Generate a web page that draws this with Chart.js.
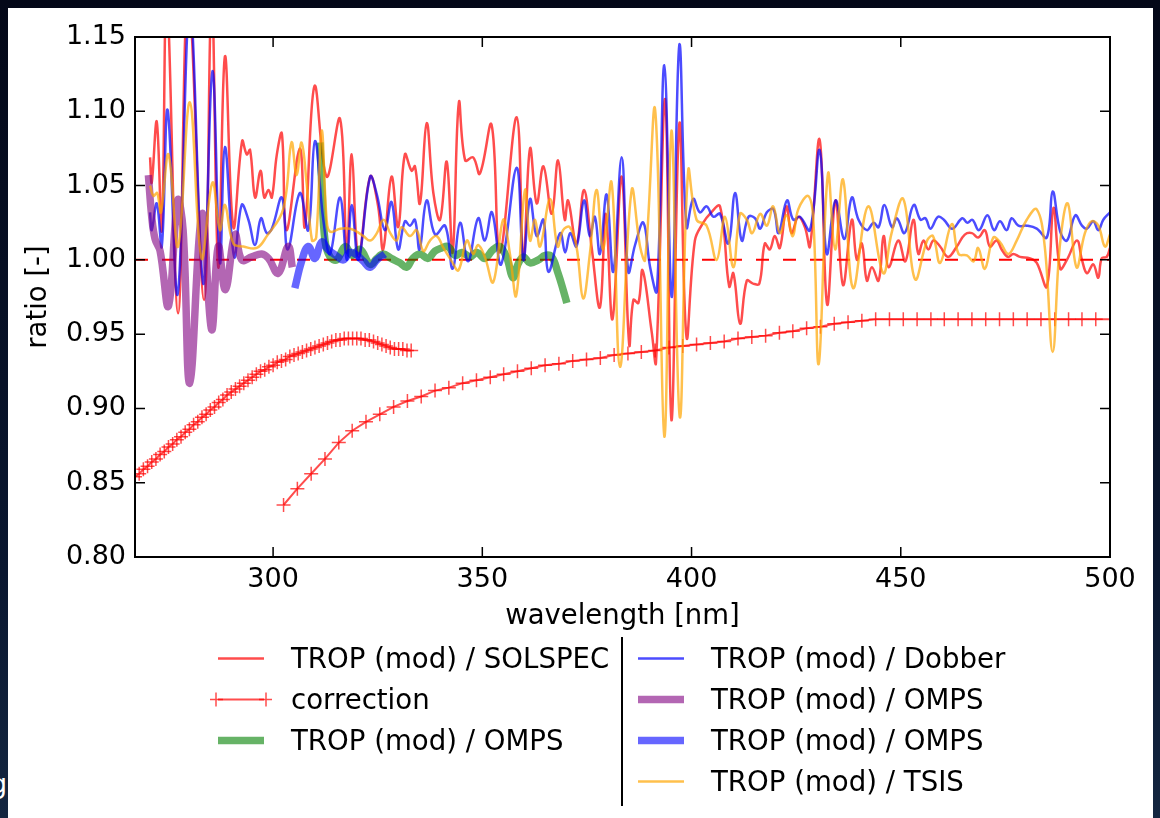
<!DOCTYPE html>
<html>
<head>
<meta charset="utf-8">
<script src="https://cdn.jsdelivr.net/npm/chart.js@4.4.1/dist/chart.umd.min.js"></script>
<style>
  body { margin: 0; width: 1160px; height: 818px; overflow: hidden; position: relative;
         background: linear-gradient(to bottom, #040818, #0a1730 70%, #142640); font-family: "DejaVu Sans", sans-serif; }
  #panel { position: absolute; left: 8px; top: 8px; width: 1145px; height: 812px; background: #fff; }
  #chartBox { position: absolute; left: 0; top: 0; width: 1145px; height: 640px; }
  #legend { position: absolute; left: 0; top: 0; width: 1145px; height: 812px; pointer-events: none; }
  .row { position: absolute; height: 41px; line-height: 41px; font-size: 27.6px; color: #000; white-space: nowrap; }
  .row span { position: absolute; top: 0; }
  #divider { position: absolute; left: 613px; top: 629px; width: 2px; height: 169px; background: #000; }
  #edgeText { position: absolute; left: -10px; top: 768px; color: #fff; font-size: 27px; }
</style>
</head>
<body>
<div id="edgeText">g</div>
<div id="panel">
  <div id="chartBox"><canvas id="ratioChart" width="1145" height="640"></canvas></div>
  <div id="legend"><div id="divider"></div></div>
</div>
<script>
// [wavelength nm, ratio]
const solspecRatio = [[270.6,1.069],[271.0,1.052],[272.2,1.093],[273.4,1.020],[274.6,1.180],[277.3,0.964],[279.7,1.180],[283.5,0.973],[285.3,1.180],[286.9,0.995],[288.5,1.137],[290.5,1.022],[292.6,1.080],[293.7,1.071],[294.5,1.074],[295.7,1.042],[297.0,1.060],[297.9,1.042],[298.9,1.047],[299.7,1.042],[300.9,1.071],[302.1,1.085],[303.2,1.020],[306.4,1.075],[307.6,1.022],[309.9,1.117],[312.8,1.056],[316.0,1.095],[317.6,1.005],[318.8,1.071],[320.4,1.002],[323.2,1.056],[325.1,1.036],[326.3,1.007],[328.3,1.056],[329.9,1.022],[331.5,1.071],[333.1,1.060],[333.9,1.063],[335.1,1.038],[336.7,1.092],[338.3,1.045],[339.9,1.027],[341.5,1.066],[342.9,1.005],[344.4,1.106],[345.9,1.067],[347.8,1.069],[349.4,1.058],[352.2,1.091],[354.2,1.005],[358.2,1.096],[359.8,1.000],[361.4,1.075],[363.0,1.038],[364.6,1.063],[366.6,1.031],[368.1,1.067],[369.7,1.027],[370.5,1.040],[372.5,1.011],[374.3,1.047],[376.1,1.009],[378.1,0.968],[379.5,1.031],[381.1,0.960],[383.3,1.056],[385.1,0.943],[386.1,0.973],[387.3,0.971],[388.3,0.993],[390.5,0.951],[391.5,0.931],[393.7,1.108],[395.2,0.892],[397.1,1.092],[398.8,0.948],[400.8,1.013],[402.8,1.025],[404.4,1.031],[406.8,1.036],[409.0,0.982],[410.0,0.991],[411.6,0.957],[413.2,0.986],[414.7,0.984],[416.2,0.984],[417.5,1.011],[418.7,1.007],[419.9,1.016],[421.1,1.008],[422.7,1.036],[423.9,1.018],[425.5,1.029],[427.1,1.022],[428.3,1.009],[430.6,1.081],[432.4,0.970],[434.4,1.040],[436.2,0.983],[438.3,1.027],[439.5,1.000],[440.7,1.011],[441.9,0.986],[443.1,0.995],[444.7,0.986],[445.9,1.016],[447.1,0.995],[449.4,1.013],[451.1,0.999],[453.0,1.027],[454.2,1.004],[455.4,1.013],[456.6,1.007],[457.8,1.013],[459.4,1.009],[461.3,1.002],[463.4,1.009],[465.3,1.017],[467.0,1.018],[468.5,1.015],[470.1,1.020],[471.3,1.009],[472.9,1.013],[474.1,1.007],[475.6,1.002],[476.9,1.004],[478.5,1.002],[480.9,1.001],[482.5,0.998],[484.9,0.982],[486.5,1.035],[488.1,0.994],[489.7,1.000],[492.1,1.013],[493.3,1.000],[494.5,0.991],[496.0,0.997],[497.2,0.988],[498.0,1.001],[499.2,1.002],[500.0,1.008]];

const correctionA = [[267,0.854],[268,0.856],[269,0.859],[270,0.861],[271,0.864],[272,0.866],[273,0.869],[274,0.871],[275,0.874],[276,0.876],[277,0.879],[278,0.881],[279,0.884],[280,0.886],[281,0.889],[282,0.891],[283,0.894],[284,0.896],[285,0.899],[286,0.901],[287,0.904],[288,0.906],[289,0.909],[290,0.911],[291,0.913],[292,0.915],[293,0.917],[294,0.919],[295,0.921],[296,0.923],[297,0.925],[298,0.926],[299,0.928],[300,0.929],[301,0.931],[302,0.932],[303,0.933],[304,0.935],[305,0.936],[306,0.937],[307,0.938],[308,0.939],[309,0.940],[310,0.941],[311,0.942],[312,0.943],[313,0.944],[314,0.945],[315,0.946],[316,0.946],[317,0.947],[318,0.947],[319,0.947],[320,0.947],[321,0.947],[322,0.946],[323,0.946],[324,0.945],[325,0.944],[326,0.943],[327,0.942],[328,0.941],[329,0.940],[330,0.940],[331,0.940],[332,0.939],[333,0.939]];

const correctionB = [[302.5,0.835],[305.8,0.846],[309.1,0.856],[312.4,0.866],[315.7,0.877],[318.9,0.885],[322.2,0.891],[325.5,0.896],[328.8,0.901],[332.1,0.905],[335.4,0.908],[338.7,0.912],[342.0,0.914],[345.3,0.917],[348.6,0.919],[351.9,0.921],[355.1,0.923],[358.4,0.925],[361.7,0.927],[365.0,0.929],[368.3,0.930],[371.6,0.932],[374.9,0.933],[378.2,0.934],[381.5,0.936],[384.8,0.937],[388.0,0.938],[391.3,0.939],[394.6,0.941],[397.9,0.942],[401.2,0.943],[404.5,0.944],[407.8,0.945],[411.1,0.947],[414.4,0.948],[417.7,0.949],[421.0,0.951],[424.2,0.952],[427.5,0.954],[430.8,0.955],[434.1,0.957],[437.4,0.958],[440.7,0.959],[444.0,0.960],[447.3,0.960],[450.6,0.960],[453.9,0.960],[457.2,0.960],[460.4,0.960],[463.7,0.960],[467.0,0.960],[470.3,0.960],[473.6,0.960],[476.9,0.960],[480.2,0.960],[483.5,0.960],[486.8,0.960],[490.1,0.960],[493.3,0.960],[496.6,0.960],[503.2,0.960]];

const ompsGreen = [[311.2,1.079],[311.7,1.047],[312.4,1.013],[313.6,1.002],[315.2,1.000],[317.2,1.009],[318.9,1.003],[320.8,1.007],[323.2,0.997],[324.8,1.001],[326.3,1.004],[328.2,1.001],[330.3,0.998],[331.9,0.995],[333.4,1.001],[335.1,1.004],[337.0,1.001],[338.7,1.006],[340.3,1.008],[341.8,1.009],[343.5,1.003],[345.1,1.005],[347.1,1.002],[348.7,1.005],[350.6,1.001],[352.6,1.007],[354.2,1.009],[355.9,1.001],[357.3,0.988],[358.5,0.997],[359.8,1.002],[361.4,0.998],[363.4,1.000],[365.0,1.003],[366.6,1.002],[368.1,0.991],[369.3,0.980],[370.2,0.971]];

const dobberRatio = [[270.6,1.032],[271.0,1.020],[272.2,1.038],[273.4,1.009],[274.8,1.101],[277.2,0.977],[280.1,1.170],[283.3,0.984],[285.5,1.127],[287.3,0.998],[288.5,1.076],[290.7,1.002],[292.5,1.037],[294.1,1.027],[295.7,1.010],[297.1,1.028],[298.5,1.018],[299.7,1.021],[302.1,1.042],[303.5,1.007],[306.4,1.045],[308.4,1.020],[310.0,1.080],[312.0,1.027],[313.6,1.004],[316.0,1.042],[317.6,1.000],[318.8,1.037],[320.4,1.000],[323.2,1.056],[324.8,1.044],[326.7,1.020],[328.3,1.039],[329.9,1.007],[331.5,1.026],[332.7,1.023],[333.9,1.027],[335.0,1.007],[336.7,1.040],[338.7,1.017],[341.1,1.023],[342.9,0.994],[344.7,1.025],[346.6,0.999],[349.0,1.028],[350.6,1.013],[352.3,1.032],[354.5,0.997],[358.2,1.062],[359.8,1.000],[361.4,1.041],[363.0,1.016],[364.6,1.027],[365.8,0.992],[368.6,1.018],[369.8,1.005],[371.0,1.018],[372.5,1.009],[374.3,1.040],[375.7,1.016],[376.9,1.029],[378.1,1.004],[379.7,1.044],[381.3,0.992],[383.3,1.069],[384.9,0.992],[386.5,1.010],[388.5,1.025],[390.1,0.995],[391.7,0.979],[393.5,1.131],[395.3,0.975],[397.1,1.145],[398.8,1.022],[400.4,1.041],[402.0,1.032],[403.6,1.036],[405.2,1.029],[406.8,1.031],[408.8,1.011],[410.4,1.045],[412.0,1.013],[413.6,1.029],[415.2,1.028],[416.4,1.021],[418.0,1.032],[419.6,1.034],[420.8,1.018],[422.8,1.040],[424.3,1.027],[425.9,1.029],[428.3,1.020],[430.6,1.074],[432.3,1.004],[434.4,1.040],[436.5,1.014],[438.3,1.042],[439.9,1.027],[441.9,1.020],[443.5,1.025],[444.7,1.022],[446.1,1.037],[447.9,1.022],[449.1,1.028],[450.9,1.018],[453.1,1.037],[454.7,1.027],[455.9,1.028],[457.1,1.021],[458.9,1.029],[460.3,1.027],[462.3,1.021],[464.7,1.028],[465.9,1.025],[467.1,1.027],[468.7,1.020],[470.7,1.030],[472.3,1.020],[473.7,1.026],[475.3,1.020],[476.5,1.028],[478.1,1.023],[480.1,1.023],[482.5,1.021],[484.9,1.015],[486.3,1.046],[488.1,1.019],[489.7,1.013],[491.7,1.030],[493.3,1.023],[494.5,1.021],[496.0,1.026],[497.2,1.020],[498.4,1.027],[500.0,1.032]];

const ompsPurple = [[270.2,1.057],[271.0,1.029],[271.8,1.014],[273.0,1.006],[275.0,0.969],[277.2,1.040],[278.5,1.020],[280.1,0.917],[283.0,1.031],[285.3,0.953],[286.9,1.009],[288.6,0.980],[290.9,1.017],[292.5,1.000],[294.9,1.002],[297.3,1.004],[298.9,1.001],[301.2,0.991],[303.6,1.009],[304.6,0.995]];

const ompsBlue = [[305.2,0.981],[306.8,0.999],[308.4,1.009],[310.0,1.001],[311.6,1.012],[313.1,1.007],[315.0,1.003],[316.8,1.000],[318.4,1.005],[320.1,1.003],[321.6,0.999],[323.2,0.995],[324.8,1.000],[326.7,1.004]];

const tsisRatio = [[270.6,1.050],[271.4,1.043],[272.3,1.045],[273.2,1.032],[275.0,1.071],[277.3,1.009],[280.1,1.106],[282.9,1.001],[285.5,1.052],[287.3,1.020],[288.5,1.037],[290.5,1.011],[292.9,1.009],[296.1,1.008],[298.5,1.016],[302.4,1.034],[304.4,1.079],[305.6,1.057],[306.8,1.079],[308.0,1.052],[309.3,1.013],[310.3,1.015],[311.6,1.087],[312.8,1.027],[313.6,1.019],[316.0,1.021],[318.4,1.021],[320.0,1.019],[321.6,1.016],[323.2,1.013],[324.8,1.018],[326.4,1.027],[328.0,1.018],[329.5,1.013],[330.7,1.022],[332.7,1.016],[334.3,1.020],[335.9,1.006],[337.5,1.013],[339.1,1.016],[340.7,1.008],[342.7,0.999],[344.3,0.993],[346.3,1.013],[347.8,1.004],[349.0,1.010],[350.6,1.002],[352.6,0.985],[355.0,1.027],[356.6,1.004],[358.1,0.976],[360.2,1.047],[361.4,1.013],[362.6,1.027],[363.8,1.009],[366.2,1.041],[368.0,1.009],[369.3,1.020],[370.9,1.022],[372.5,1.009],[374.1,0.974],[375.7,1.004],[377.3,1.047],[378.9,1.007],[380.9,1.052],[382.9,0.928],[385.7,1.047],[387.7,1.009],[388.9,1.000],[391.3,1.101],[393.5,0.881],[395.2,1.087],[397.2,0.894],[399.2,1.060],[401.2,1.027],[403.6,1.023],[406.0,1.000],[408.0,1.029],[410.0,0.995],[411.6,1.031],[413.2,1.027],[414.5,1.018],[416.4,1.031],[418.0,1.023],[419.5,1.036],[421.1,1.018],[422.7,1.030],[424.2,1.016],[425.5,1.034],[427.9,1.043],[429.1,1.027],[430.4,0.930],[432.6,1.058],[434.3,1.007],[436.2,1.054],[438.6,0.981],[442.2,1.036],[445.8,0.991],[447.8,1.018],[450.6,1.041],[453.4,0.987],[456.3,1.013],[457.7,1.016],[459.4,0.998],[462.2,1.024],[463.8,1.004],[465.8,1.003],[467.4,0.999],[468.5,1.008],[470.1,0.994],[472.1,1.015],[473.7,1.012],[475.7,1.004],[477.7,1.013],[480.1,1.027],[482.5,1.034],[484.4,1.009],[486.3,0.938],[488.0,1.009],[489.9,1.038],[492.0,0.995],[494.0,1.018],[495.6,1.026],[497.2,1.023],[498.8,1.009],[500.0,1.017]];

const unityLine = [[267,1.0],[500,1.0]];

const xTickValues = [300, 350, 400, 450, 500];
const yTickValues = [0.80, 0.85, 0.90, 0.95, 1.00, 1.05, 1.10, 1.15];

const FONT = '"DejaVu Sans", sans-serif';
const toPts = arr => arr.map(p => ({ x: p[0], y: p[1] }));

function lineSet(label, data, color, width, extra) {
    return Object.assign({
        label: label,
        data: toPts(data),
        borderColor: color,
        borderWidth: width,
        pointRadius: 0,
        tension: 0.4,
        fill: false,
        clip: 0
    }, extra || {});
}

const dsUnity   = lineSet('', unityLine, '#ff0000', 2, { tension: 0, borderDash: [13, 14], order: 8 });
const dsSolspec = lineSet('TROP (mod) / SOLSPEC', solspecRatio, 'rgba(255,0,0,0.7)', 2.5, { order: 7 });
const crossStyle = { tension: 0, pointStyle: 'cross', pointRadius: 7, pointBorderWidth: 1.5, pointBorderColor: 'rgba(255,0,0,0.7)', order: 6 };
const dsCorrA   = lineSet('correction', correctionA, 'rgba(255,0,0,0.7)', 2, crossStyle);
const dsCorrB   = lineSet('correction', correctionB, 'rgba(255,0,0,0.7)', 2, crossStyle);
const dsGreen   = lineSet('TROP (mod) / OMPS', ompsGreen, 'rgba(0,128,0,0.6)', 7.5, { order: 5 });
const dsDobber  = lineSet('TROP (mod) / Dobber', dobberRatio, 'rgba(0,0,255,0.7)', 2.5, { order: 4 });
const dsPurple  = lineSet('TROP (mod) / OMPS', ompsPurple, 'rgba(128,0,128,0.6)', 7.5, { order: 3 });
const dsBlue    = lineSet('TROP (mod) / OMPS', ompsBlue, 'rgba(0,0,255,0.6)', 7.5, { order: 2 });
const dsTsis    = lineSet('TROP (mod) / TSIS', tsisRatio, 'rgba(255,165,0,0.7)', 2.5, { order: 1 });

// inward ticks on all four sides plus the black frame
const frameTicks = {
    id: 'frameTicks',
    afterDraw(chart) {
        const { ctx, chartArea: a, scales: { x, y } } = chart;
        ctx.save();
        ctx.strokeStyle = '#000';
        ctx.lineWidth = 1.5;
        ctx.beginPath();
        xTickValues.forEach(v => {
            const px = x.getPixelForValue(v);
            ctx.moveTo(px, a.bottom); ctx.lineTo(px, a.bottom - 10);
            ctx.moveTo(px, a.top); ctx.lineTo(px, a.top + 10);
        });
        yTickValues.forEach(v => {
            const py = y.getPixelForValue(v);
            ctx.moveTo(a.left, py); ctx.lineTo(a.left + 10, py);
            ctx.moveTo(a.right, py); ctx.lineTo(a.right - 10, py);
        });
        ctx.stroke();
        ctx.lineWidth = 2;
        ctx.strokeRect(a.left, a.top, a.right - a.left, a.bottom - a.top);
        ctx.restore();
    }
};

const ctx = document.getElementById('ratioChart').getContext('2d');
const chart = new Chart(ctx, {
    type: 'line',
    data: { datasets: [dsUnity, dsSolspec, dsCorrA, dsCorrB, dsGreen, dsDobber, dsPurple, dsBlue, dsTsis] },
    options: {
        responsive: false,
        animation: false,
        layout: { padding: { left: 0, top: 29, right: 43, bottom: 0 } },
        plugins: { legend: { display: false }, tooltip: { enabled: false } },
        scales: {
            x: {
                type: 'linear',
                min: 267,
                max: 500,
                afterBuildTicks: s => { s.ticks = xTickValues.map(v => ({ value: v })); },
                afterFit: s => { s.height = 91; },
                grid: { display: false, drawTicks: false },
                border: { display: false },
                ticks: { color: '#000', font: { family: FONT, size: 27 }, padding: 7, maxRotation: 0, autoSkip: false,
                         callback: v => String(v) },
                title: { display: true, text: 'wavelength [nm]', color: '#000', font: { family: FONT, size: 27.5 },
                         padding: { top: 0, bottom: 15 } }
            },
            y: {
                type: 'linear',
                min: 0.8,
                max: 1.15,
                afterBuildTicks: s => { s.ticks = yTickValues.map(v => ({ value: v })); },
                afterFit: s => { s.width = 127; },
                grid: { display: false, drawTicks: false },
                border: { display: false },
                ticks: { color: '#000', font: { family: FONT, size: 27 }, padding: 9, autoSkip: false,
                         callback: v => Number(v).toFixed(2) },
                title: { display: true, text: 'ratio [-]', color: '#000', font: { family: FONT, size: 27.5 },
                         padding: { top: 14, bottom: 0 } }
            }
        }
    },
    plugins: [frameTicks]
});

// two-column legend with a divider, handles taken from the datasets
function handleSvg(ds) {
    const mid = 20.5;
    let s = '<svg width="62" height="41" style="position:absolute;left:-8px;top:0">';
    s += '<line x1="8" y1="' + mid + '" x2="54" y2="' + mid + '" stroke="' + ds.borderColor + '" stroke-width="' + ds.borderWidth + '"/>';
    if (ds.pointStyle === 'cross') {
        [6, 56].forEach(cx => {
            s += '<path d="M' + (cx - 7) + ' ' + mid + 'H' + (cx + 7) + 'M' + cx + ' ' + (mid - 7) + 'V' + (mid + 7) +
                 '" stroke="' + ds.borderColor + '" stroke-width="1.5"/>';
        });
    }
    return s + '</svg>';
}

const legendCols = [
    { handleX: 210, textX: 283, items: [dsSolspec, dsCorrA, dsGreen] },
    { handleX: 630, textX: 703, items: [dsDobber, dsPurple, dsBlue, dsTsis] }
];
const legendBox = document.getElementById('legend');
legendCols.forEach(col => {
    col.items.forEach((ds, i) => {
        const row = document.createElement('div');
        row.className = 'row';
        row.style.left = col.handleX + 'px';
        row.style.top = (630 + i * 41) + 'px';
        row.innerHTML = handleSvg(ds) + '<span style="left:' + (col.textX - col.handleX) + 'px">' + ds.label + '</span>';
        legendBox.appendChild(row);
    });
});
</script>
</body>
</html>
